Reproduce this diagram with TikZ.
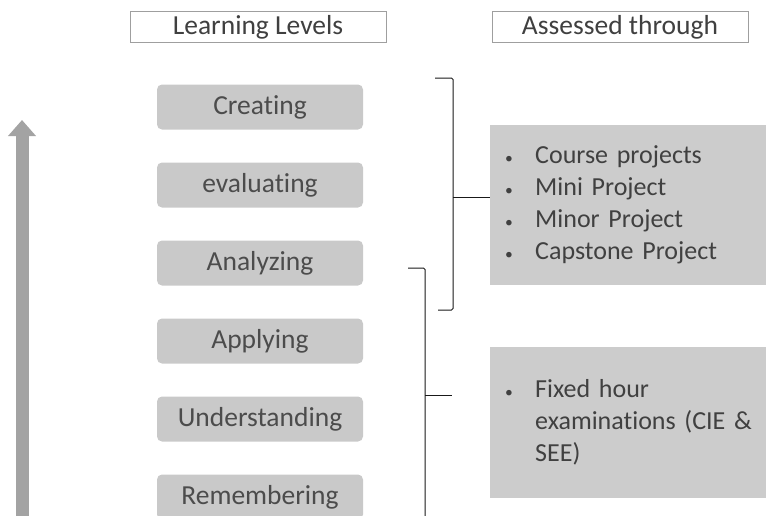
\documentclass[tikz,border=0pt]{standalone}
\usepackage{fontspec}
\setmainfont{Carlito}[Ligatures=NoCommon]
\usepackage{xcolor}
\usetikzlibrary{positioning, arrows.meta}
\tikzset{
    x=1pt, y=-1pt, % one unit is one pixel, y runs downwards
    node distance=78pt, % distance between the centres of two levels
    heading/.style={rectangle, draw=gray!75, line width=0.7pt, minimum width=256pt, minimum height=30pt, text=black!75, font=\fontsize{27.5}{32}\selectfont}, % the two titles
    level/.style={rectangle, rounded corners=5pt, fill=gray!42, minimum width=206pt, minimum height=45pt, text=black!70, font=\fontsize{27.5}{32}\selectfont}, % one learning level
    assess/.style={rectangle, fill=gray!40, anchor=north west, inner xsep=15pt, text width=261pt, align=left, text=black!75, font=\fontsize{26}{32}\selectfont}, % grey box with the bullets
    bracket/.style={draw=black!90, line width=1pt, rounded corners=1.5pt}, % square brackets
}
\tikzstyle{uparrow} = [line width=13pt, draw=gray!72, -{Triangle[width=27pt,length=16pt]}]
\newcommand{\itm}{\makebox[30pt][l]{\scalebox{0.6}{\textbullet}}}

\begin{document}
\begin{tikzpicture}
    \useasboundingbox (0,0) rectangle (766,515);

    \node[heading] (levels) at (258,27) {Learning Levels};
    \node[heading] (through) at (620,27) {Assessed through};

    \node[level] (create) at (260,107) {Creating};
    \node[level, below of=create] (eval) {evaluating};
    \node[level, below of=eval] (analyze) {Analyzing};
    \node[level, below of=analyze] (apply) {Applying};
    \node[level, below of=apply] (understand) {Understanding};
    \node[level, below of=understand] (remember) {Remembering};

    \coordinate (tail) at (22,530);
    \coordinate (tip) at (22,120);
    \draw[uparrow] (tail) -- (tip);

    \node[assess, minimum height=160pt] (projects) at (490,125)
        {\itm Course projects\\ \itm Mini Project\\ \itm Minor Project\\ \itm Capstone Project};
    \node[assess, minimum height=151pt] (exams) at (490,347)
        {\itm Fixed hour\\ \hspace*{30pt}examinations (CIE \&\\ \hspace*{30pt}SEE)};

    % bracket for the upper three levels
    \coordinate (b1top) at (435,78);
    \coordinate (b1bot) at (438,310);
    \coordinate (b1mid) at (453,197);
    \draw[bracket] (b1top) -- (453,78) -- (453,310) -- (b1bot);
    \draw[bracket] (b1mid) -- (b1mid -| projects.west);

    % bracket for the lower levels
    \coordinate (b2top) at (408,268);
    \coordinate (b2bot) at (425,530);
    \coordinate (b2mid) at (425,395);
    \coordinate (b2end) at (452,395);
    \draw[bracket] (b2top) -- (425,268) -- (b2bot);
    \draw[bracket] (b2mid) -- (b2end);
\end{tikzpicture}
\end{document}
